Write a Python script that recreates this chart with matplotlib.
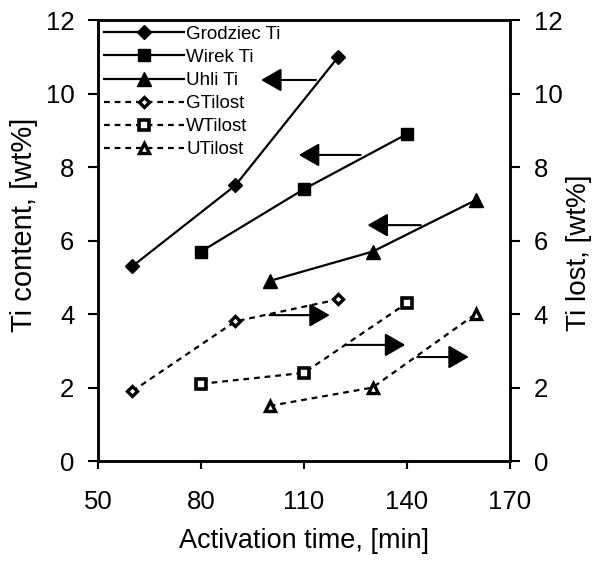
import matplotlib
matplotlib.use("Agg")
import matplotlib.pyplot as plt

plt.rcParams['font.family'] = ['Liberation Sans', 'DejaVu Sans']

time_g = [60, 90, 120]
time_w = [80, 110, 140]
time_u = [100, 130, 160]
grodziec_ti = [5.3, 7.5, 11.0]
wirek_ti = [5.7, 7.4, 8.9]
uhli_ti = [4.9, 5.7, 7.1]
g_tilost = [1.9, 3.8, 4.4]
w_tilost = [2.1, 2.4, 4.3]
u_tilost = [1.5, 2.0, 4.0]

x_ticks = [50, 80, 110, 140, 170]
y_ticks = [0, 2, 4, 6, 8, 10, 12]

# annotation arrows: (tail_x, tip_x, y)
arrows_left = [(113.5, 97.5, 10.37), (126.5, 108.5, 8.33), (144.0, 128.5, 6.42)]
arrows_right = [(100.0, 117.5, 3.97), (122.0, 139.5, 3.16), (143.0, 158.0, 2.83)]

fig = plt.figure(figsize=(5.96, 5.66), dpi=100)
ax = fig.add_axes([0.1644, 0.1855, 0.6913, 0.779])

lw = 1.6
dash = (2.6, 2.2)
ax.plot(time_g, grodziec_ti, '-', color='black', lw=lw, marker='D', ms=7.5, mfc='black', mec='black', label='Grodziec Ti')
ax.plot(time_w, wirek_ti, '-', color='black', lw=lw, marker='s', ms=8.5, mfc='black', mec='black', label='Wirek Ti')
ax.plot(time_u, uhli_ti, '-', color='black', lw=lw, marker='^', ms=10, mfc='black', mec='black', label='Uhli Ti')
ax.plot(time_g, g_tilost, '--', color='black', lw=lw, dashes=dash, marker='D', ms=5.5, mfc='white', mec='black', mew=2.4, label='GTilost')
ax.plot(time_w, w_tilost, '--', color='black', lw=lw, dashes=dash, marker='s', ms=6.5, mfc='white', mec='black', mew=2.6, label='WTilost')
ax.plot(time_u, u_tilost, '--', color='black', lw=lw, dashes=dash, marker='^', ms=7.5, mfc='white', mec='black', mew=2.4, label='UTilost')

for tail, tip, y in arrows_left + arrows_right:
    ax.annotate('', xy=(tip, y), xytext=(tail, y),
                arrowprops=dict(arrowstyle='-|>,head_length=1.25,head_width=0.72', color='black', lw=1.5, shrinkA=0, shrinkB=0))

ax.set_xlim(50, 170)
ax.set_ylim(0, 12)
ax.set_xticks(x_ticks)
ax.set_yticks(y_ticks)
ax.tick_params(axis='x', direction='out', labelsize=18.5, width=1.5, length=6, pad=15)
ax.tick_params(axis='y', direction='out', labelsize=18.5, width=1.5, length=7, pad=10)
ax.set_xlabel('Activation time, [min]', fontsize=19.5)
ax.set_ylabel('Ti content, [wt%]', fontsize=21)
ax.xaxis.set_label_coords(0.5, -0.152)
ax.yaxis.set_label_coords(-0.146, 0.535)
for s in ax.spines.values():
    s.set_linewidth(1.8)

ax2 = ax.twinx()
ax2.set_ylim(0, 12)
ax2.set_yticks(y_ticks)
ax2.tick_params(axis='y', direction='out', labelsize=18.5, width=1.5, length=7, pad=10)
ax2.set_ylabel('Ti lost, [wt%]', fontsize=20)
ax2.yaxis.set_label_coords(1.136, 0.472)
for s in ax2.spines.values():
    s.set_linewidth(1.8)

leg = ax.legend(loc='upper left', frameon=False, fontsize=13.5, handlelength=4.3,
                handletextpad=0.1, labelspacing=0.32, borderaxespad=0.1, borderpad=0.2)

fig.savefig('out.png', dpi=100)
